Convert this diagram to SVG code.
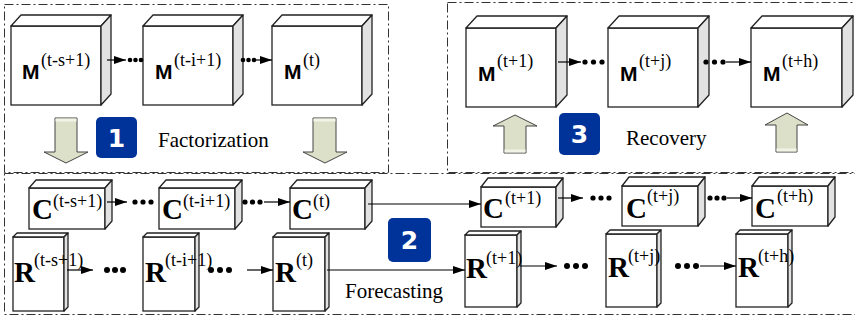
<svg xmlns="http://www.w3.org/2000/svg" width="855" height="321" viewBox="0 0 855 321">
<style>
.frame{fill:none;stroke:#333;stroke-width:1;stroke-dasharray:9 3 2 3}
.front{fill:#fff;stroke:#222;stroke-width:1.3}
.top{fill:#fff;stroke:#222;stroke-width:1.3;stroke-linejoin:round}
.side{fill:#e2e2e2;stroke:#222;stroke-width:1.3;stroke-linejoin:round}
.mL{font-family:"Liberation Sans",Arial,sans-serif;font-weight:bold;font-size:21px;fill:#000}
.big{font-family:"Liberation Serif","Times New Roman","DejaVu Serif",serif;font-weight:bold;font-size:29px;fill:#000}
.sup{font-family:"Liberation Serif","Times New Roman","DejaVu Serif",serif;font-size:18px;fill:#000}
.lbl{font-family:"Liberation Serif","Times New Roman","DejaVu Serif",serif;font-size:21px;fill:#000}
.badge{fill:#003399}
.bnum{font-family:"DejaVu Sans",Verdana,sans-serif;font-weight:bold;font-size:25px;fill:#fff;text-anchor:middle}
.blk{fill:#dde0c9;stroke:#444;stroke-width:1}
.cap{fill:#f1f3e6;stroke:none}
.ln{stroke:#000;stroke-width:1.2;fill:none}
.dot{fill:#000}
</style>
<defs>
<marker id="ah" markerWidth="12" markerHeight="8" refX="12" refY="4" orient="auto" markerUnits="userSpaceOnUse">
<path d="M0,0 L12,4 L0,8 Z" fill="#000"/>
</marker>
</defs>

<g id="frames">
<rect class="frame" x="4.5" y="4.5" width="384" height="168"/>
<rect class="frame" x="447.5" y="2.5" width="430" height="170"/>
<rect class="frame" x="4.5" y="173.5" width="880" height="141"/>
</g>

<g id="M1">
<rect class="front" x="11" y="26" width="90" height="79"/>
<polygon class="top" points="11,26 21,15 111,15 101,26"/>
<polygon class="side" points="101,26 111,15 111,94 101,105"/>
<text class="mL" x="22" y="79">M</text><text class="sup" x="41" y="66">(t-s+1)</text>
</g>
<g id="M2">
<rect class="front" x="143" y="26" width="90" height="79"/>
<polygon class="top" points="143,26 153,15 243,15 233,26"/>
<polygon class="side" points="233,26 243,15 243,94 233,105"/>
<text class="mL" x="155" y="79">M</text><text class="sup" x="174" y="66">(t-i+1)</text>
</g>
<g id="M3">
<rect class="front" x="272" y="26" width="90" height="79"/>
<polygon class="top" points="272,26 282,15 372,15 362,26"/>
<polygon class="side" points="362,26 372,15 372,94 362,105"/>
<text class="mL" x="284" y="79">M</text><text class="sup" x="303" y="66">(t)</text>
</g>

<g id="M4">
<rect class="front" x="466" y="28" width="90" height="79"/>
<polygon class="top" points="466,28 477,16 567,16 556,28"/>
<polygon class="side" points="556,28 567,16 567,95 556,107"/>
<text class="mL" x="478" y="81">M</text><text class="sup" x="497" y="67">(t+1)</text>
</g>
<g id="M5">
<rect class="front" x="608" y="28" width="90" height="79"/>
<polygon class="top" points="608,28 619,16 709,16 698,28"/>
<polygon class="side" points="698,28 709,16 709,95 698,107"/>
<text class="mL" x="620" y="81">M</text><text class="sup" x="639" y="67">(t+j)</text>
</g>
<g id="M6">
<rect class="front" x="751" y="28" width="91" height="79"/>
<polygon class="top" points="751,28 762,16 853,16 842,28"/>
<polygon class="side" points="842,28 853,16 853,95 842,107"/>
<text class="mL" x="763" y="81">M</text><text class="sup" x="782" y="67">(t+h)</text>
</g>

<g id="C1">
<rect class="front" x="29" y="188" width="76" height="41"/>
<polygon class="top" points="29,188 36,180 112,180 105,188"/>
<polygon class="side" points="105,188 112,180 112,221 105,229"/>
<text class="big" x="32" y="219">C</text><text class="sup" x="53" y="207">(t-s+1)</text>
</g>
<g id="C2">
<rect class="front" x="159" y="188" width="76" height="41"/>
<polygon class="top" points="159,188 166,180 242,180 235,188"/>
<polygon class="side" points="235,188 242,180 242,221 235,229"/>
<text class="big" x="162" y="219">C</text><text class="sup" x="183" y="207">(t-i+1)</text>
</g>
<g id="C3">
<rect class="front" x="290" y="188" width="75" height="41"/>
<polygon class="top" points="290,188 297,180 372,180 365,188"/>
<polygon class="side" points="365,188 372,180 372,221 365,229"/>
<text class="big" x="292" y="219">C</text><text class="sup" x="313" y="207">(t)</text>
</g>
<g id="C4">
<rect class="front" x="481" y="187" width="75" height="40"/>
<polygon class="top" points="481,187 488,178 563,178 556,187"/>
<polygon class="side" points="556,187 563,178 563,218 556,227"/>
<text class="big" x="483" y="218">C</text><text class="sup" x="505" y="204">(t+1)</text>
</g>
<g id="C5">
<rect class="front" x="622" y="186" width="76" height="40"/>
<polygon class="top" points="622,186 629,177 705,177 698,186"/>
<polygon class="side" points="698,186 705,177 705,217 698,226"/>
<text class="big" x="626" y="218">C</text><text class="sup" x="647" y="202">(t+j)</text>
</g>
<g id="C6">
<rect class="front" x="752" y="186" width="76" height="40"/>
<polygon class="top" points="752,186 759,177 835,177 828,186"/>
<polygon class="side" points="828,186 835,177 835,217 828,226"/>
<text class="big" x="755" y="218">C</text><text class="sup" x="777" y="202">(t+h)</text>
</g>

<g id="R1">
<rect class="front" x="13" y="237" width="51" height="74"/>
<polygon class="top" points="13,237 17,233 68,233 64,237"/>
<polygon class="side" points="64,237 68,233 68,307 64,311"/>
<text class="big" x="14" y="282">R</text><text class="sup" x="34" y="266">(t-s+1)</text>
</g>
<g id="R2">
<rect class="front" x="143" y="237" width="52" height="74"/>
<polygon class="top" points="143,237 147,233 199,233 195,237"/>
<polygon class="side" points="195,237 199,233 199,307 195,311"/>
<text class="big" x="145" y="282">R</text><text class="sup" x="165" y="266">(t-i+1)</text>
</g>
<g id="R3">
<rect class="front" x="273" y="237" width="52" height="74"/>
<polygon class="top" points="273,237 277,233 329,233 325,237"/>
<polygon class="side" points="325,237 329,233 329,307 325,311"/>
<text class="big" x="275" y="282">R</text><text class="sup" x="296" y="266">(t)</text>
</g>
<g id="R4">
<rect class="front" x="465" y="235" width="52" height="72"/>
<polygon class="top" points="465,235 469,231 521,231 517,235"/>
<polygon class="side" points="517,235 521,231 521,303 517,307"/>
<text class="big" x="466" y="278">R</text><text class="sup" x="486" y="264">(t+1)</text>
</g>
<g id="R5">
<rect class="front" x="606" y="234" width="51" height="73"/>
<polygon class="top" points="606,234 610,230 661,230 657,234"/>
<polygon class="side" points="657,234 661,230 661,303 657,307"/>
<text class="big" x="608" y="277">R</text><text class="sup" x="628" y="262">(t+j)</text>
</g>
<g id="R6">
<rect class="front" x="736" y="234" width="52" height="73"/>
<polygon class="top" points="736,234 740,230 792,230 788,234"/>
<polygon class="side" points="788,234 792,230 792,303 788,307"/>
<text class="big" x="738" y="277">R</text><text class="sup" x="758" y="262">(t+h)</text>
</g>

<g id="down1">
<polygon class="blk" points="55,118 77,118 77,152 88,152 66,163 44,152 55,152"/>
<rect class="cap" x="55.5" y="118.5" width="21" height="3"/>
</g>
<g id="down2">
<polygon class="blk" points="313,118 336,118 336,152 347,152 325,163 303,152 313,152"/>
<rect class="cap" x="313.5" y="118.5" width="22" height="3"/>
</g>
<g id="up1">
<polygon class="blk" points="504,153 526,153 526,126 537,126 515,115 493,126 504,126"/>
<rect class="cap" x="504.5" y="149.5" width="21" height="3"/>
</g>
<g id="up2">
<polygon class="blk" points="776,152 797,152 797,125 808,125 787,113 765,125 776,125"/>
<rect class="cap" x="776.5" y="148.5" width="20" height="3"/>
</g>

<g id="step1">
<rect class="badge" x="96" y="117" width="41" height="41" rx="5"/>
<text class="bnum" x="116.5" y="146.5">1</text>
<text class="lbl" x="158" y="147">Factorization</text>
</g>
<g id="step2">
<rect class="badge" x="388" y="218" width="43" height="44" rx="5"/>
<text class="bnum" x="409.5" y="249">2</text>
<text class="lbl" x="345" y="298">Forecasting</text>
</g>
<g id="step3">
<rect class="badge" x="559" y="113" width="41" height="42" rx="5"/>
<text class="bnum" x="579.5" y="143">3</text>
<text class="lbl" x="626" y="145">Recovery</text>
</g>

<g id="connectors">
<line class="ln" x1="107" y1="60" x2="126" y2="60" marker-end="url(#ah)"/>
<circle class="dot" cx="130" cy="60" r="2.3"/><circle class="dot" cx="135.5" cy="60" r="2.3"/><circle class="dot" cx="141" cy="60" r="2.3"/>
<circle class="dot" cx="243" cy="60" r="2.3"/><circle class="dot" cx="248.5" cy="60" r="2.3"/><circle class="dot" cx="254" cy="60" r="2.3"/>
<line class="ln" x1="256" y1="60" x2="272" y2="60" marker-end="url(#ah)"/>

<line class="ln" x1="558" y1="62" x2="581" y2="62" marker-end="url(#ah)"/>
<circle class="dot" cx="585" cy="62" r="2.6"/><circle class="dot" cx="593.5" cy="62" r="2.6"/><circle class="dot" cx="602" cy="62" r="2.6"/>
<circle class="dot" cx="706" cy="62" r="2.6"/><circle class="dot" cx="714.5" cy="62" r="2.6"/><circle class="dot" cx="723" cy="62" r="2.6"/>
<line class="ln" x1="726" y1="62" x2="751" y2="62" marker-end="url(#ah)"/>

<line class="ln" x1="107" y1="202" x2="127" y2="202" marker-end="url(#ah)"/>
<circle class="dot" cx="135" cy="202" r="2.6"/><circle class="dot" cx="143" cy="202" r="2.6"/><circle class="dot" cx="151" cy="202" r="2.6"/>
<circle class="dot" cx="245" cy="202" r="2.6"/><circle class="dot" cx="252.5" cy="202" r="2.6"/><circle class="dot" cx="260" cy="202" r="2.6"/>
<line class="ln" x1="264" y1="202" x2="290" y2="202" marker-end="url(#ah)"/>
<line class="ln" x1="368" y1="204" x2="481" y2="204" marker-end="url(#ah)"/>
<line class="ln" x1="558" y1="198" x2="583" y2="198" marker-end="url(#ah)"/>
<circle class="dot" cx="593" cy="198" r="2.6"/><circle class="dot" cx="601" cy="198" r="2.6"/><circle class="dot" cx="609" cy="198" r="2.6"/>
<circle class="dot" cx="710" cy="198" r="2.6"/><circle class="dot" cx="717" cy="198" r="2.6"/><circle class="dot" cx="724" cy="198" r="2.6"/>
<line class="ln" x1="727" y1="198" x2="752" y2="198" marker-end="url(#ah)"/>

<line class="ln" x1="67" y1="270" x2="93" y2="270" marker-end="url(#ah)"/>
<circle class="dot" cx="107" cy="270" r="3"/><circle class="dot" cx="115" cy="270" r="3"/><circle class="dot" cx="123" cy="270" r="3"/>
<circle class="dot" cx="211" cy="270" r="3"/><circle class="dot" cx="220" cy="270" r="3"/><circle class="dot" cx="229" cy="270" r="3"/>
<line class="ln" x1="247" y1="270" x2="273" y2="270" marker-end="url(#ah)"/>
<line class="ln" x1="327" y1="270" x2="465" y2="270" marker-end="url(#ah)"/>
<line class="ln" x1="520" y1="266" x2="557" y2="266" marker-end="url(#ah)"/>
<circle class="dot" cx="567" cy="266" r="3"/><circle class="dot" cx="576" cy="266" r="3"/><circle class="dot" cx="585" cy="266" r="3"/>
<circle class="dot" cx="678" cy="266" r="3"/><circle class="dot" cx="687" cy="266" r="3"/><circle class="dot" cx="696" cy="266" r="3"/>
<line class="ln" x1="700" y1="266" x2="736" y2="266" marker-end="url(#ah)"/>
</g>
</svg>
